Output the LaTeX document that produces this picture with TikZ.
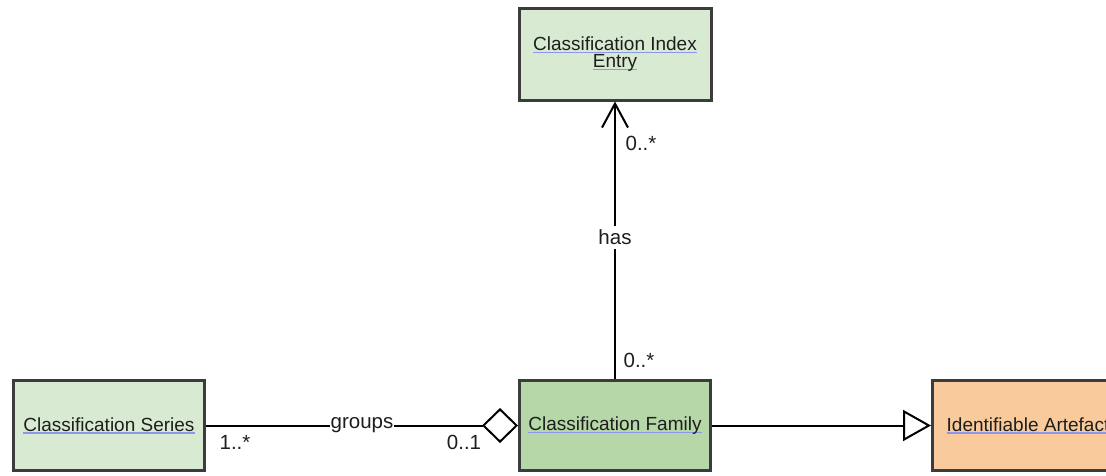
\documentclass[tikz,border=0pt]{standalone}
\usepackage{fontspec}
\setmainfont{Liberation Sans}
\usetikzlibrary{arrows.meta}
\definecolor{lgreen}{HTML}{D9EAD3}
\definecolor{mgreen}{HTML}{B6D7A8}
\definecolor{lorange}{HTML}{F9CB9C}
\definecolor{bordergray}{HTML}{3C3C3C}
\definecolor{ulblue}{RGB}{140,150,235}
\definecolor{txt}{HTML}{1E1E1E}
\newsavebox\ulbox
\newcommand\ulx[1]{\sbox\ulbox{#1}\rlap{\textcolor{ulblue}{\rule[-2.6pt]{\wd\ulbox}{1.2pt}}}\usebox\ulbox}
\begin{document}
\begin{tikzpicture}[x=1pt,y=-1pt,
  box/.style={draw=bordergray, line width=3pt, minimum width=191pt, minimum height=90pt,
    align=center, inner sep=0pt, text=txt, font=\fontsize{19}{17}\selectfont},
  conn/.style={line width=2pt, draw=black},
  lbl/.style={font=\fontsize{20.5}{22}\selectfont, text=txt, inner sep=1pt}]
\useasboundingbox (0,0) rectangle (1106,475);
\clip (0,0) rectangle (1106,475);
\node[box, fill=lgreen, minimum height=92pt, minimum width=192pt] (entry) at (615,54) {\ulx{Classification Index}\\\ulx{Entry}};
\node[box, fill=lgreen] (series) at (109,425.5) {\ulx{Classification Series}};
\node[box, fill=mgreen] (family) at (615,425.5) {\ulx{Classification Family}};
\node[box, fill=lorange] (artefact) at (1028,425.5) {\ulx{Identifiable Artefact}};
\draw[conn, -{Straight Barb[length=24pt,width=26pt]}] (family) -- node[lbl, fill=white, pos=0.51, inner ysep=4pt] (has) {has} (entry);
\draw[conn, -{Diamond[open,length=36pt,width=35pt]}] (series) -- node[lbl, fill=white, inner ysep=0pt, inner xsep=1pt] (groups) {groups} (family);
\draw[conn, -{Triangle[open,length=28pt,width=31pt]}] (family) -- (artefact);
\node[lbl] (m1) at (235,442) {1..*};
\node[lbl] (m2) at (464,442) {0..1};
\node[lbl] (m3) at (641,143) {0..*};
\node[lbl] (m4) at (639,360) {0..*};
\end{tikzpicture}
\end{document}
